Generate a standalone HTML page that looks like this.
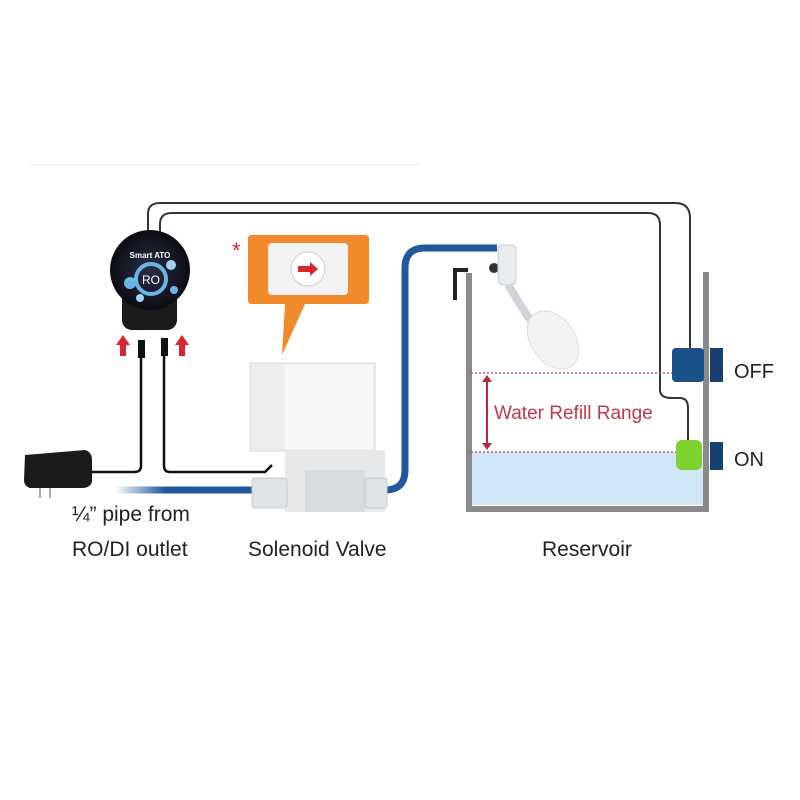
<!DOCTYPE html>
<html><head><meta charset="utf-8"><style>
html,body{margin:0;padding:0;background:#fff;}
svg{display:block;font-family:"Liberation Sans",sans-serif;}
</style></head><body>
<svg width="800" height="800" viewBox="0 0 800 800" xmlns="http://www.w3.org/2000/svg">
<defs>
<linearGradient id="pg" gradientUnits="userSpaceOnUse" x1="115" y1="0" x2="258" y2="0"><stop offset="0" stop-color="#1f5aa0" stop-opacity="0"/><stop offset="0.35" stop-color="#1f5aa0"/></linearGradient>
<radialGradient id="ctl" cx="0.5" cy="0.5" r="0.5"><stop offset="0" stop-color="#2a2f45"/><stop offset="1" stop-color="#0c0c12"/></radialGradient>
</defs>
<line x1="30" y1="165" x2="420" y2="165" stroke="#eeeeee" stroke-width="1"/>
<!-- wires -->
<path d="M148 232 V214 Q148 203 160 203 H675 Q690 203 690 218 V352" fill="none" stroke="#333" stroke-width="2"/>
<path d="M160 238 V224 Q160 213 172 213 H648 Q660 213 660 225 V390 Q660 398 672 398 H680 Q688 398 688 408 V442" fill="none" stroke="#333" stroke-width="2"/>
<!-- reservoir -->
<rect x="471" y="452" width="233" height="53" fill="#cfe6f6"/>
<path d="M469 273 V509 H706 V272" fill="none" stroke="#8a8a8a" stroke-width="6"/>
<line x1="471" y1="373" x2="680" y2="373" stroke="#c0394a" stroke-width="1.2" stroke-dasharray="2,2"/>
<line x1="471" y1="452" x2="680" y2="452" stroke="#c0394a" stroke-width="1.2" stroke-dasharray="2,2"/>
<line x1="487" y1="378" x2="487" y2="447" stroke="#b52a3c" stroke-width="2"/>
<path d="M482 382 L487 375 L492 382 Z M482 443 L487 450 L492 443 Z" fill="#b52a3c"/>
<text x="494" y="419" font-size="19" fill="#c0394a">Water Refill Range</text>
<!-- sensors -->
<rect x="672" y="348" width="32" height="34" rx="4" fill="#1a4f8a"/>
<rect x="710" y="348" width="13" height="34" fill="#16406f"/>
<rect x="676" y="440" width="26" height="30" rx="6" fill="#7fd12f"/>
<rect x="710" y="442" width="13" height="28" fill="#16406f"/>
<text x="734" y="378" font-size="20" fill="#222">OFF</text>
<text x="734" y="466" font-size="20" fill="#222">ON</text>
<!-- blue pipe -->
<path d="M115 490 H258" stroke="url(#pg)" stroke-width="7" fill="none"/>
<path d="M385 490 Q405 490 405 470 V268 Q405 248 425 248 H497" stroke="#1f5aa0" stroke-width="7" fill="none"/>
<!-- float valve -->
<path d="M455 300 V270 H468" stroke="#222" stroke-width="4" fill="none"/>
<circle cx="494" cy="268" r="5" fill="#333"/>
<rect x="498" y="245" width="18" height="40" rx="5" fill="#e8ecef" stroke="#c8cdd2"/>
<path d="M508 285 L530 320" stroke="#d0d4d8" stroke-width="8"/>
<ellipse cx="553" cy="340" rx="22" ry="32" transform="rotate(-35 553 340)" fill="#f2f2f2" stroke="#ddd"/>
<!-- solenoid valve -->
<rect x="250" y="363" width="125" height="88" fill="#ebedef" stroke="#d8dadd"/>
<rect x="285" y="365" width="88" height="84" fill="#f8f8f8"/>
<rect x="285" y="450" width="100" height="62" fill="#e6e8ea"/>
<rect x="305" y="470" width="60" height="42" fill="#d9dcdf"/>
<rect x="252" y="478" width="35" height="30" rx="3" fill="#e0e3e6" stroke="#c5c9cd"/>
<rect x="365" y="478" width="22" height="30" rx="3" fill="#e0e3e6" stroke="#c5c9cd"/>
<!-- callout -->
<path d="M252 235 H365 Q369 235 369 239 V300 Q369 304 365 304 H305 L282 355 L285 304 H252 Q248 304 248 300 V239 Q248 235 252 235 Z" fill="#f08a2b"/>
<rect x="268" y="243" width="80" height="52" fill="#f2f2f2" rx="4"/>
<circle cx="308" cy="269" r="17" fill="#fff" stroke="#ccc"/>
<path d="M298 266 H310 V262 L318 269 L310 276 V272 H298 Z" fill="#d7262d"/>
<text x="232" y="258" font-size="22" fill="#d7262d">*</text>
<!-- controller -->
<rect x="122" y="285" width="55" height="45" rx="10" fill="#1a1a1a"/>
<circle cx="150" cy="270" r="40" fill="url(#ctl)"/>
<circle cx="151" cy="279" r="15" fill="none" stroke="#6ab4e8" stroke-width="4"/>
<circle cx="130" cy="283" r="6" fill="#6ab4e8"/>
<circle cx="171" cy="265" r="5" fill="#9fd4f5"/>
<circle cx="174" cy="290" r="4" fill="#6ab4e8"/>
<circle cx="140" cy="298" r="4" fill="#9fd4f5"/>
<text x="151" y="284" font-size="12" fill="#fff" text-anchor="middle">RO</text>
<text x="150" y="258" font-size="8" fill="#fff" text-anchor="middle" font-weight="bold">Smart ATO</text>
<!-- red arrows -->
<path d="M120 356 V345 H116 L123 335 L130 345 H126 V356 Z" fill="#d7262d"/>
<path d="M179 356 V345 H175 L182 335 L189 345 H185 V356 Z" fill="#d7262d"/>
<!-- plugs and cables -->
<rect x="138" y="340" width="7" height="18" fill="#111"/>
<rect x="161" y="338" width="7" height="18" fill="#111"/>
<path d="M141 358 V466 Q141 472 134 472 H90" stroke="#111" stroke-width="2.5" fill="none"/>
<path d="M164 356 V466 Q164 472 170 472 H265 L272 465" stroke="#111" stroke-width="2.5" fill="none"/>
<!-- power adapter -->
<path d="M25 455 L85 450 Q92 452 92 460 V482 Q90 488 82 488 H30 Q24 486 24 480 Z" fill="#1b1b1b"/>
<line x1="40" y1="488" x2="40" y2="498" stroke="#aaa" stroke-width="2"/>
<line x1="50" y1="488" x2="50" y2="498" stroke="#aaa" stroke-width="2"/>
<!-- labels -->
<text x="72" y="521" font-size="21" fill="#222">¼” pipe from</text>
<text x="72" y="556" font-size="21" fill="#222">RO/DI outlet</text>
<text x="248" y="556" font-size="21" fill="#222">Solenoid Valve</text>
<text x="542" y="556" font-size="21" fill="#222">Reservoir</text>
</svg>
</body></html>
